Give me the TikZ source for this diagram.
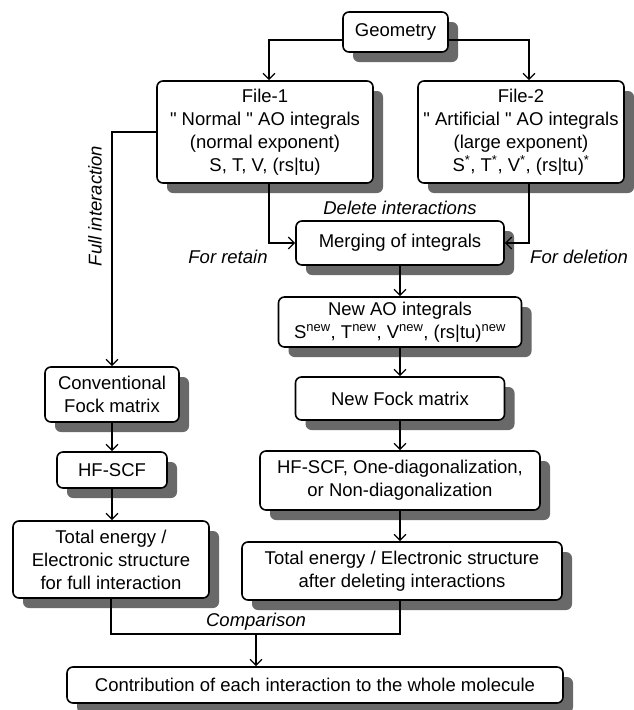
\documentclass[tikz,border=0pt]{standalone}
\usepackage{fontspec}
\setmainfont{Liberation Sans}
\usetikzlibrary{positioning,arrows.meta}
\definecolor{shadowgray}{RGB}{105,105,105}
\newcommand{\fs}{\fontsize{18.5}{23}\selectfont}
\newcommand{\qt}{\textquotedbl}
\tikzset{
  fbox/.style={draw,line width=1.6pt,rounded corners=6pt,fill=white,
               align=center,inner sep=2pt,font=\fs},
  boxshadow/.style={fill=shadowgray,rounded corners=6pt},
  arr/.style={-{Straight Barb[length=6pt,width=12pt]},line width=1.3pt},
  lbl/.style={font=\fs\itshape,inner sep=0pt},
}
% name, x, y, width, height, text
\newcommand{\flowbox}[6]{%
  \fill[boxshadow] (#2+10-#4/2,#3+10-#5/2) rectangle (#2+10+#4/2,#3+10+#5/2);
  \node[fbox,minimum width=#4pt,minimum height=#5pt] (#1) at (#2,#3) {#6};}
\begin{document}
\begin{tikzpicture}[x=1pt,y=-1pt]
  \useasboundingbox (0,0) rectangle (634,710);
  \flowbox{geo}{395.5}{32}{105}{40}{Geometry}
  \flowbox{f1}{265}{132}{216}{102}{File-1\\\qt{} Normal \qt{} AO integrals\\(normal exponent)\\S, T, V, (rs|tu)}
  \flowbox{f2}{521}{132}{206}{102}{File-2\\\qt{} Artificial \qt{} AO integrals\\(large exponent)\\S\textsuperscript{*}, T\textsuperscript{*}, V\textsuperscript{*}, (rs|tu)\textsuperscript{*}}
  \flowbox{merge}{400}{243}{208}{44}{Merging of integrals}
  \flowbox{newao}{400}{322}{243}{50}{New AO integrals\\S\textsuperscript{new}, T\textsuperscript{new}, V\textsuperscript{new}, (rs|tu)\textsuperscript{new}}
  \flowbox{newfock}{400}{398.5}{209}{43}{New Fock matrix}
  \flowbox{hfr}{400}{480.5}{280}{59}{HF-SCF, One-diagonalization,\\or Non-diagonalization}
  \flowbox{totr}{402}{571}{320}{58}{Total energy / Electronic structure\\after deleting interactions}
  \flowbox{conv}{112}{394.5}{134}{55}{Conventional\\Fock matrix}
  \flowbox{hfl}{112}{470}{110}{36}{HF-SCF}
  \flowbox{totl}{111}{559.5}{196}{77}{Total energy /\\Electronic structure\\for full interaction}
  \flowbox{contrib}{315}{685}{496}{36}{Contribution of each interaction to the whole molecule}

  \node[lbl] (dellbl) at (400,208) {Delete interactions};
  \node[lbl] (retlbl) at (228,257) {For retain};
  \node[lbl,anchor=west] (dellbl2) at (530,257) {For deletion};
  \node[lbl,rotate=90] (fulllbl) at (95,206) {Full interaction};
  \coordinate (cmp) at (256,634);
  \node[lbl] (cmplbl) at (256,622) {Comparison};

  \draw[arr] ([yshift=-8pt]geo.west) -| ([xshift=4pt]f1.north);
  \draw[arr] ([yshift=-8pt]geo.east) -| ([xshift=8pt]f2.north);
  \draw[arr] ([xshift=4pt]f1.south) |- (merge.west);
  \draw[arr] ([xshift=8pt]f2.south) |- (merge.east);
  \draw[arr] (merge.south) -- (newao.north);
  \draw[arr] (newao.south) -- (newfock.north);
  \draw[arr] (newfock.south) -- (hfr.north);
  \draw[arr] (hfr.south) -- (hfr.south |- totr.north);
  \draw[arr] (f1.west) -| (conv.north);
  \draw[arr] (conv.south) -- (hfl.north);
  \draw[arr] (hfl.south) -- (hfl.south |- totl.north);
  \draw[line width=1.3pt] (totl.south) |- (cmp) -| ([xshift=-2pt]totr.south);
  \draw[arr] (cmp) -- (cmp |- contrib.north);
\end{tikzpicture}
\end{document}
